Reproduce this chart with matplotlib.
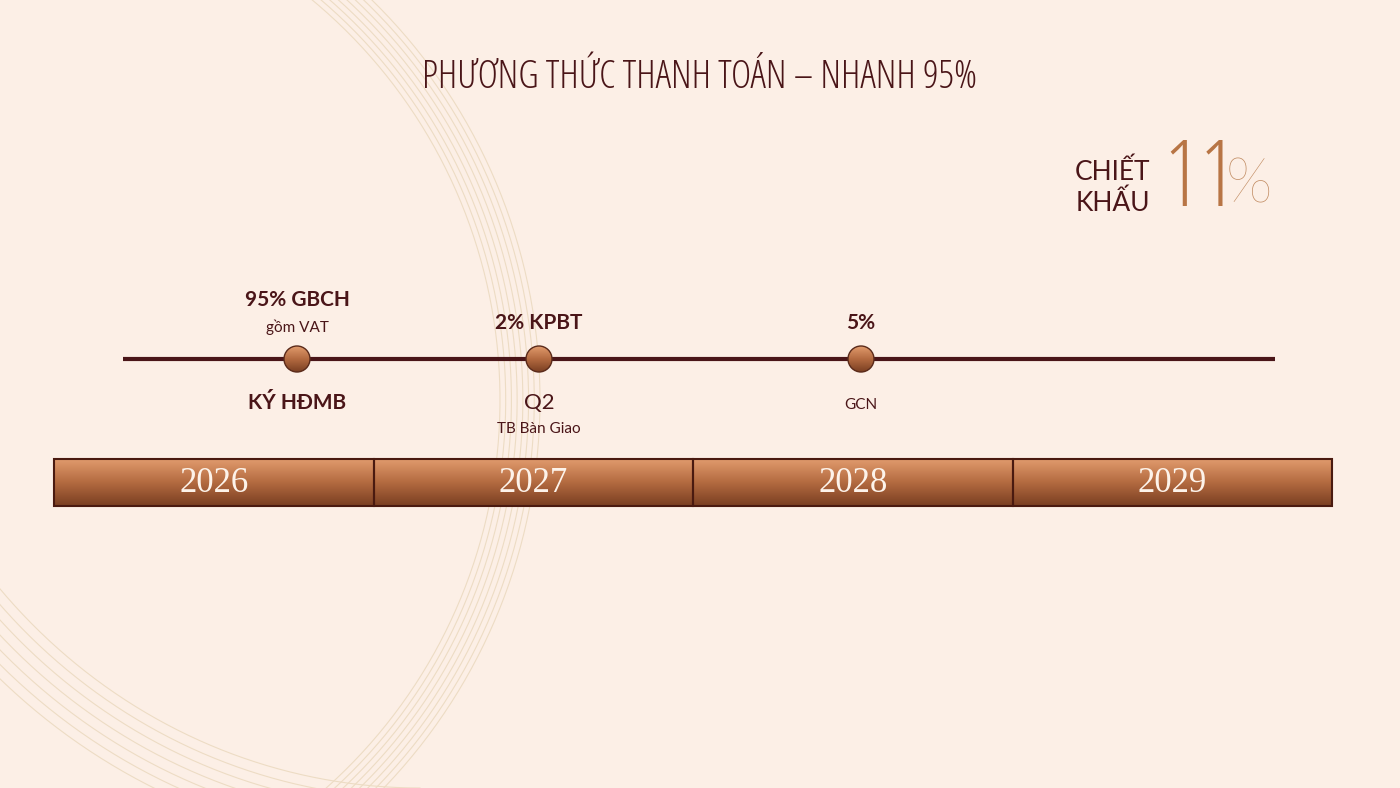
import numpy as np
import matplotlib.pyplot as plt
from matplotlib.patches import Circle, Rectangle
from matplotlib.colors import LinearSegmentedColormap

years = ['2026', '2027', '2028', '2029']
milestone_x = [297, 539, 861]
top_main = ['95% GBCH', '2% KPBT', '5%']
top_sub = ['gồm VAT', '', '']
bottom_main = ['KÝ HĐMB', 'Q2', 'GCN']
bottom_sub = ['', 'TB Bàn Giao', '']

bg = '#fcefe6'
dark = '#4a1518'

fig = plt.figure(figsize=(14, 7.88), dpi=100, facecolor=bg)
ax = fig.add_axes([0, 0, 1, 1])
ax.axis('off')

# decorative thin arcs
t = np.linspace(-np.pi / 2, np.pi / 2, 400)
for r in np.linspace(520, 560, 8):
    ax.plot(-20 + r * np.cos(t), 400 + r * np.sin(t), color='#eddcc4', lw=0.8, zorder=0)
tt = np.linspace(np.pi * 0.5, np.pi * 0.95, 200)
for r in np.linspace(560, 620, 7):
    ax.plot(420 + r * np.cos(tt), 200 + r * np.sin(tt) * 1.05, color='#eddcc4', lw=0.8, zorder=0)

# title
ax.text(700, 78, 'PHƯƠNG THỨC THANH TOÁN – NHANH 95%', ha='center', va='center',
        fontsize=28, color=dark, family='Open Sans', fontweight='light', fontstretch='condensed')

# discount
ax.text(1150, 172, 'CHIẾT', ha='right', va='center', fontsize=19, color=dark, family='Lato')
ax.text(1150, 203, 'KHẤU', ha='right', va='center', fontsize=19, color=dark, family='Lato')
ax.text(1163, 182, '11', ha='left', va='center', fontsize=66, color='#b87545',
        family='Open Sans', fontweight='light', fontstretch='condensed')
ax.text(1226, 185, '%', ha='left', va='center', fontsize=44, color='#c08a60',
        family='Lato', fontweight='light')

# timeline line
ax.plot([123, 1275], [359, 359], color=dark, lw=3, solid_capstyle='butt', zorder=2)

grad = np.linspace(0, 1, 64).reshape(-1, 1)
cmap = LinearSegmentedColormap.from_list('br', ['#e09a6c', '#b36a40', '#7a3f22'])

for x, tm, ts, bm, bs in zip(milestone_x, top_main, top_sub, bottom_main, bottom_sub):
    im = ax.imshow(grad, extent=[x - 13, x + 13, 372, 346], cmap=cmap, zorder=3, aspect='auto')
    im.set_clip_path(Circle((x, 359), 13, transform=ax.transData))
    ax.add_patch(Circle((x, 359), 13, fill=False, ec='#5a2a1a', lw=1, zorder=4))
    if ts:
        ax.text(x, 300, tm, ha='center', va='center', fontsize=15, fontweight='bold', color=dark, family='Lato')
        ax.text(x, 327, ts, ha='center', va='center', fontsize=11, color=dark, family='Lato')
    else:
        ax.text(x, 323, tm, ha='center', va='center', fontsize=15, fontweight='bold', color=dark, family='Lato')
    if bm == 'KÝ HĐMB':
        ax.text(x, 403, bm, ha='center', va='center', fontsize=15, fontweight='bold', color=dark, family='Lato')
    elif bs:
        ax.text(x, 403, bm, ha='center', va='center', fontsize=16, color=dark, family='Lato')
        ax.text(x, 429, bs, ha='center', va='center', fontsize=11, color=dark, family='Lato')
    else:
        ax.text(x, 405, bm, ha='center', va='center', fontsize=11, color=dark, family='Lato')

# year bars
x0, x1, ytop, ybot = 54, 1332, 459, 506
w = (x1 - x0) / len(years)
ax.imshow(grad, extent=[x0, x1, ybot, ytop], cmap=cmap, zorder=2, aspect='auto')
for i, y in enumerate(years):
    ax.add_patch(Rectangle((x0 + i * w, ytop), w, ybot - ytop, fill=False, ec='#4a1a10', lw=1.5, zorder=3))
    ax.text(x0 + (i + 0.5) * w, 483, y, ha='center', va='center', fontsize=25, color='#fdf3ea',
            family='Liberation Serif', zorder=4)

ax.set_xlim(0, 1400)
ax.set_ylim(788, 0)
fig.savefig('out.png', dpi=100, facecolor=bg)
